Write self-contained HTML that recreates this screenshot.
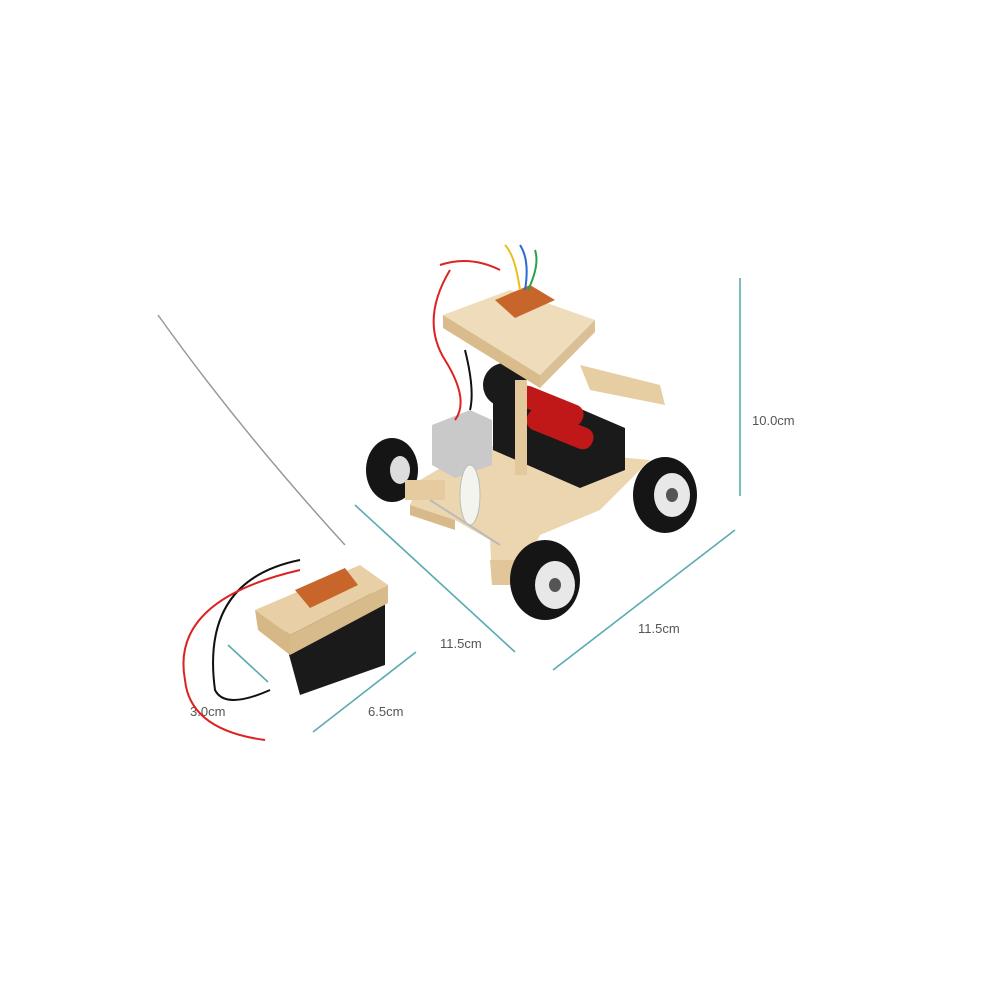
<!DOCTYPE html>
<html><head><meta charset="utf-8"><style>
html,body{margin:0;padding:0;background:#fff;}
svg{display:block}
text{font-family:"Liberation Sans",sans-serif;font-size:13px;fill:#555}
</style></head><body>
<svg width="1000" height="1000" viewBox="0 0 1000 1000">
<rect width="1000" height="1000" fill="#fff"/>
<!-- dimension lines -->
<g stroke="#5aaab0" stroke-width="1.6" fill="none">
<line x1="740" y1="278" x2="740" y2="496"/>
<line x1="553" y1="670" x2="735" y2="530"/>
<line x1="355" y1="505" x2="515" y2="652"/>
<line x1="313" y1="732" x2="416" y2="652"/>
<line x1="228" y1="645" x2="268" y2="682"/>
</g>
<text x="752" y="425">10.0cm</text>
<text x="638" y="633">11.5cm</text>
<text x="440" y="648">11.5cm</text>
<text x="368" y="716">6.5cm</text>
<text x="190" y="716">3.0cm</text>
<!-- antenna -->
<path d="M158 315 Q240 430 345 545" stroke="#999" stroke-width="1.5" fill="none"/>
<!-- remote wires -->
<path d="M300 560 Q200 580 215 690 Q225 710 270 690" stroke="#111" stroke-width="2" fill="none"/>
<path d="M300 570 Q170 600 185 680 Q190 730 265 740" stroke="#d22" stroke-width="2" fill="none"/>
<!-- remote battery box -->
<polygon points="285,615 385,590 385,665 300,695 285,640" fill="#1a1a1a"/>
<!-- remote wood -->
<polygon points="255,610 360,565 388,585 290,635" fill="#e8cfa6"/>
<polygon points="255,610 290,635 290,655 258,630" fill="#d6b887"/>
<polygon points="290,635 388,585 388,603 290,655" fill="#d8bb8a"/>
<polygon points="295,590 345,568 358,585 310,608" fill="#c8652a"/>
<!-- car base -->
<polygon points="420,480 480,445 650,460 600,510 540,535 520,575 492,580 490,540 455,520 410,505" fill="#ecd6b0"/>
<polygon points="410,505 455,520 455,530 410,515" fill="#d8b98a"/>
<polygon points="490,560 520,560 520,585 492,585" fill="#e2c69a"/>
<!-- rear wheel -->
<circle cx="505" cy="385" r="22" fill="#1a1a1a"/>
<!-- wheels -->
<ellipse cx="392" cy="470" rx="26" ry="32" fill="#151515"/>
<ellipse cx="400" cy="470" rx="10" ry="14" fill="#ddd"/>
<ellipse cx="665" cy="495" rx="32" ry="38" fill="#151515"/>
<ellipse cx="672" cy="495" rx="18" ry="22" fill="#e8e8e8"/>
<ellipse cx="672" cy="495" rx="6" ry="7" fill="#555"/>
<ellipse cx="545" cy="580" rx="35" ry="40" fill="#151515"/>
<ellipse cx="555" cy="585" rx="20" ry="24" fill="#e8e8e8"/>
<ellipse cx="555" cy="585" rx="6" ry="7" fill="#555"/>
<!-- battery holder -->
<polygon points="493,400 525,385 625,428 625,470 580,488 493,450" fill="#1a1a1a"/>
<rect x="515" y="395" width="70" height="22" rx="10" fill="#c01818" transform="rotate(22 550 406)"/>
<rect x="525" y="418" width="70" height="22" rx="10" fill="#c01818" transform="rotate(22 560 429)"/>
<!-- pillars -->
<rect x="515" y="380" width="12" height="95" fill="#e3c89b"/>
<polygon points="580,365 660,385 665,405 590,390" fill="#e6cda2"/>
<!-- top platform -->
<polygon points="443,315 510,290 595,320 540,375" fill="#efdcba"/>
<polygon points="443,315 540,375 540,388 443,328" fill="#d9bb8c"/>
<polygon points="540,375 595,320 595,332 540,388" fill="#dcc095"/>
<polygon points="495,300 530,285 555,300 515,318" fill="#c8652a"/>
<!-- motor -->
<polygon points="432,425 470,410 492,420 492,465 455,478 432,465" fill="#c9c9c9"/>
<rect x="405" y="480" width="40" height="20" fill="#e5cb9f"/>
<ellipse cx="470" cy="495" rx="10" ry="30" fill="#f4f4ee" stroke="#bbb"/>
<line x1="430" y1="500" x2="500" y2="545" stroke="#bbb" stroke-width="2"/>
<!-- wires -->
<path d="M450 270 Q420 320 445 360 Q470 400 455 420" stroke="#d22" stroke-width="2" fill="none"/>
<path d="M440 265 Q470 255 500 270" stroke="#d22" stroke-width="2" fill="none"/>
<path d="M505 245 Q515 255 520 290" stroke="#e6c21a" stroke-width="2" fill="none"/>
<path d="M520 245 Q530 260 525 290" stroke="#2a6ad0" stroke-width="2" fill="none"/>
<path d="M535 250 Q540 265 528 290" stroke="#2aa04a" stroke-width="2" fill="none"/>
<path d="M465 350 Q475 390 470 410" stroke="#111" stroke-width="2" fill="none"/>
</svg>
</body></html>
